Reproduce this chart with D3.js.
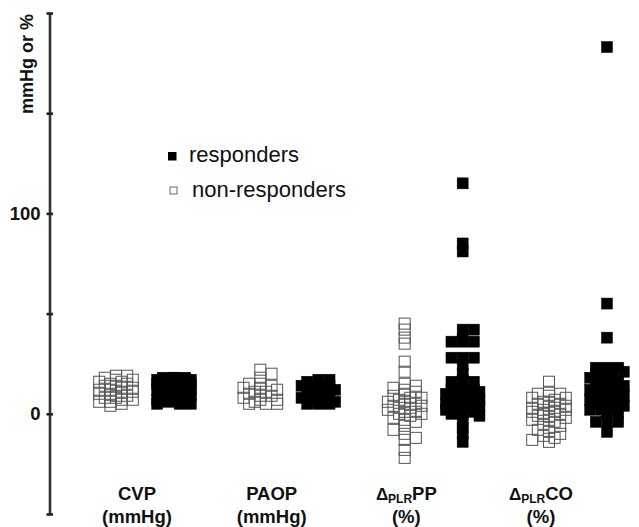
<!DOCTYPE html>
<html><head><meta charset="utf-8">
<script src="https://cdn.jsdelivr.net/npm/d3@7"></script>
<style>body{margin:0;background:#fff}svg{display:block}</style>
</head><body>
<script>
// ---- data ----
const categories = ["CVP", "PAOP", "PP", "CO"];
const groups = ["non-responders", "responders"];
const yTicks = [-50, 0, 50, 100, 150, 200];
const yTickLabels = ["", "0", "", "100", "", ""];
const yTitle = "mmHg or %";
const labelMain = ["CVP", "PAOP", "PP", "CO"];
const labelPrefix = ["", "", "\u0394", "\u0394"];
const labelSub = ["", "", "PLR", "PLR"];
const labelUnit = ["(mmHg)", "(mmHg)", "(%)", "(%)"];

const cvpNon = [4,5,6,6,7,7,8,8,9,9,10,10,11,11,12,12,13,13,14,14,15,15,16,16,17,17,18,19,19];
const cvpResp = [5,5,5,6,6,7,7,8,8,9,9,10,10,11,11,12,12,13,13,14,14,15,15,16,16,17,17,18,18,18,18];
const paopNon = [5,5,5,6,7,7,8,9,9,10,11,11,12,13,13,14,15,15,18,20,22];
const paopResp = [5,5,5,6,6,7,8,8,9,10,10,11,12,12,13,14,14,15,16,17,17];
const ppNon = [45,42,38,35,26,21,15,14,13,12,11,10,9,8,8,7,6,6,5,5,4,4,3,3,2,1,1,0,0,-1,-2,-3,-4,-6,-8,-10,-12,-13,-18,-22];
const ppResp = [115,85,81,42,42,37,36,36,36,28,28,28,24,20,17,16,16,13,12,12,11,11,10,10,9,8,8,7,7,6,5,5,4,4,3,2,2,1,0,0,-1,-4,-7,-10,-14];
const coNon = [16,11,10,10,9,8,8,7,6,6,5,5,4,4,3,3,2,2,1,1,0,0,-1,-1,-2,-3,-3,-4,-5,-6,-7,-8,-9,-10,-11,-12,-13,-14];
const coResp = [183,55,38,23,23,23,22,21,20,19,18,18,17,16,16,15,14,14,13,12,12,11,10,10,9,8,8,7,6,6,5,4,4,3,2,2,1,1,-4,-4,-4,-9];

const series = [
  {cat: "CVP", grp: "non-responders", values: cvpNon},
  {cat: "CVP", grp: "responders", values: cvpResp},
  {cat: "PAOP", grp: "non-responders", values: paopNon},
  {cat: "PAOP", grp: "responders", values: paopResp},
  {cat: "PP", grp: "non-responders", values: ppNon},
  {cat: "PP", grp: "responders", values: ppResp},
  {cat: "CO", grp: "non-responders", values: coNon},
  {cat: "CO", grp: "responders", values: coResp}
];

// ---- layout ----
const W = 639, H = 527;
const svg = d3.select("body").append("svg").attr("width", W).attr("height", H);
const font = "'Liberation Sans', Arial, Helvetica, sans-serif";

const y = d3.scaleLinear().domain([-50, 200]).range([514, 13]);
const x = d3.scalePoint().domain(categories).range([145, 578]);
const xSub = d3.scalePoint().domain(groups).range([-29, 29]);
const xLabel = d3.scalePoint().domain(categories).range([137, 541]);

const M = 11;          // marker size
const step = 5.6;      // horizontal slot spacing
const K = 3;           // max slots each side
const lambda = 5;      // penalty for leaving centre

function swarm(values) {
  const sorted = values.slice().sort((a, b) => b - a);
  const placed = [];
  const order = [0];
  for (let k = 1; k <= K; k++) { order.push(k, -k); }
  sorted.forEach(v => {
    const py = y(v);
    let best = null, bestCost = Infinity;
    for (const s of order) {
      const dx0 = s * step;
      let cost = lambda * Math.abs(dx0);
      placed.forEach(p => {
        const ox = Math.max(0, M - Math.abs(p.dx - dx0));
        const oy = Math.max(0, M - Math.abs(p.py - py));
        cost += ox * oy;
      });
      if (cost < bestCost - 1e-9) { bestCost = cost; best = dx0; }
    }
    placed.push({v, py, dx: best});
  });
  return placed;
}

// axis
const axis = d3.axisLeft(y).tickValues(yTicks)
  .tickFormat((d, i) => yTickLabels[i]).tickSize(3).tickSizeOuter(0).tickPadding(6);
const ag = svg.append("g").attr("transform", "translate(49.5,0)").call(axis);
ag.select(".domain").attr("stroke", "#333").attr("stroke-width", 2.6);
ag.selectAll(".tick line").attr("stroke", "#222").attr("stroke-width", 2.6).attr("x1", 3.5);
ag.selectAll(".tick text").attr("font-family", font).attr("font-weight", "bold")
  .attr("font-size", 18.5).attr("fill", "#111");

svg.append("text").attr("transform", "translate(33,64) rotate(-90)")
  .attr("text-anchor", "middle").attr("font-family", font).attr("font-weight", "bold")
  .attr("font-size", 18).attr("fill", "#111").text(yTitle);

// points
series.forEach(sr => {
  const cx = x(sr.cat) + xSub(sr.grp);
  const pts = swarm(sr.values);
  const resp = sr.grp === "responders";
  svg.append("g").selectAll("rect").data(pts).join("rect")
    .attr("x", d => cx + d.dx - M / 2)
    .attr("y", d => d.py - M / 2)
    .attr("width", M).attr("height", M)
    .attr("fill", resp ? "#000" : "none")
    .attr("stroke", resp ? "#000" : "#555")
    .attr("stroke-width", resp ? 0.5 : 1);
});

// legend
const lg = svg.append("g");
lg.append("rect").attr("x", 168).attr("y", 152).attr("width", 8.5).attr("height", 8.5).attr("fill", "#000");
lg.append("rect").attr("x", 170).attr("y", 187).attr("width", 7).attr("height", 7)
  .attr("fill", "#fff").attr("stroke", "#666").attr("stroke-width", 1);
lg.append("text").attr("x", 189).attr("y", 162).attr("font-family", font).attr("font-size", 22)
  .attr("fill", "#111").text(groups[1]);
lg.append("text").attr("x", 192).attr("y", 197).attr("font-family", font).attr("font-size", 22)
  .attr("fill", "#111").text(groups[0]);

// x labels
categories.forEach((c, i) => {
  const t = svg.append("text").attr("x", xLabel(c)).attr("y", 500).attr("text-anchor", "middle")
    .attr("font-family", font).attr("font-weight", "bold").attr("font-size", 18.5).attr("fill", "#111");
  if (labelPrefix[i]) {
    t.append("tspan").text(labelPrefix[i]).attr("font-size", 17);
    t.append("tspan").text(labelSub[i]).attr("font-size", 12).attr("dy", 3);
    t.append("tspan").text(labelMain[i]).attr("dy", -3);
  } else {
    t.append("tspan").text(labelMain[i]);
  }
  svg.append("text").attr("x", xLabel(c)).attr("y", 523).attr("text-anchor", "middle")
    .attr("font-family", font).attr("font-weight", "bold").attr("font-size", 18.5).attr("fill", "#111")
    .text(labelUnit[i]);
});
</script>
</body></html>
